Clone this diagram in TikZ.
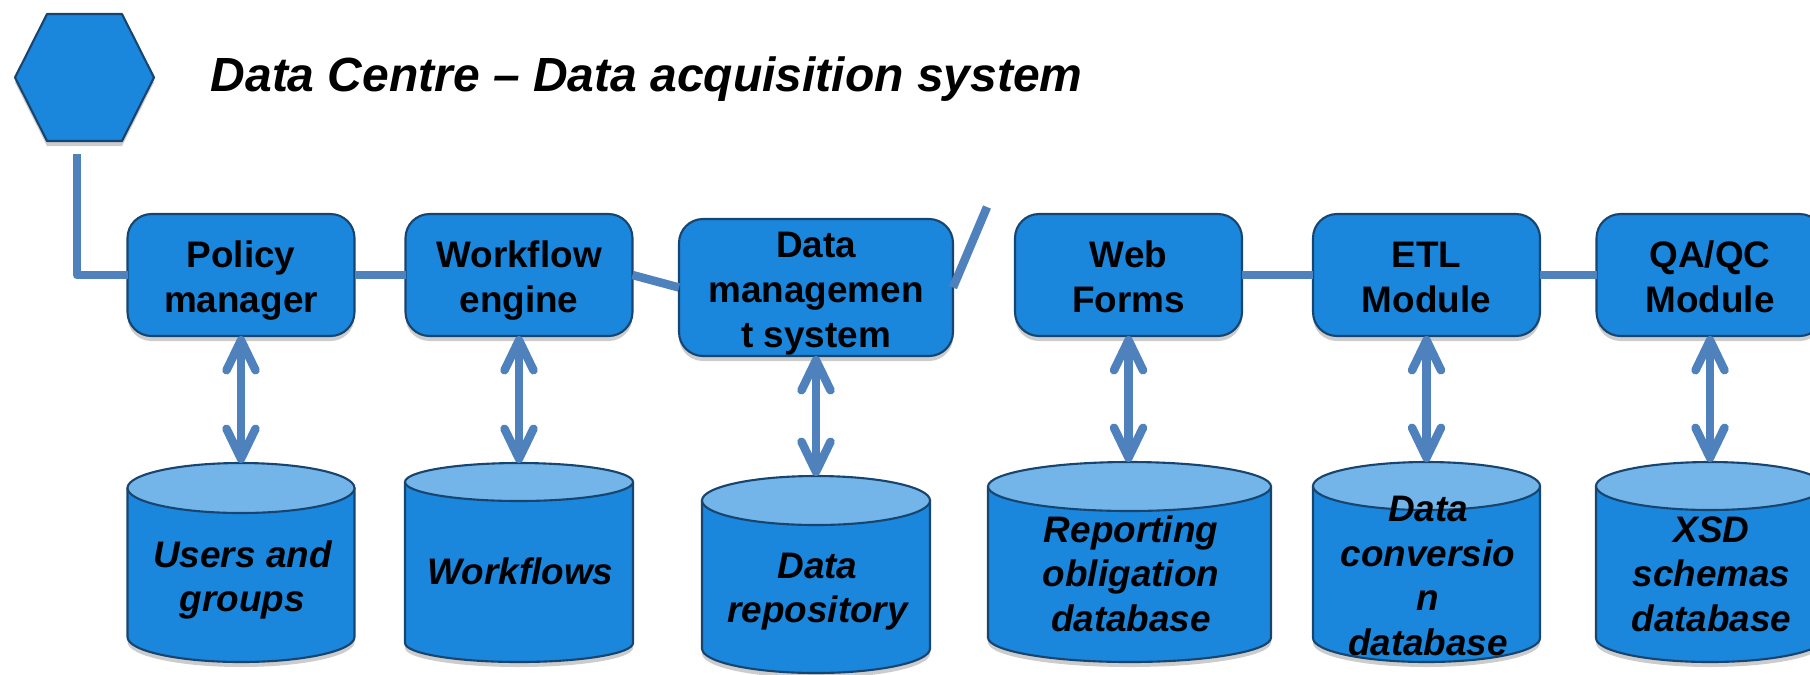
\documentclass[tikz,border=0pt]{standalone}
\usepackage{fontspec}
\setmainfont{Liberation Sans}
\usetikzlibrary{shapes.geometric,arrows.meta,shadows}
\definecolor{boxblue}{HTML}{1A86DC}
\definecolor{topblue}{HTML}{73B5E8}
\definecolor{edgeblue}{HTML}{17456F}
\definecolor{linkblue}{HTML}{4F81BD}
\newcommand{\firstln}{\rule{0pt}{9.5pt}}
\newcommand{\boxln}{\rule{0pt}{10.8pt}}
\newcommand{\lastln}{\rule[-2.4pt]{0pt}{0pt}}
\tikzset{
  softshadow/.style={drop shadow={shadow xshift=0cm,shadow yshift=-.05cm,opacity=.2,fill=black}},
  modulebox/.style={draw=edgeblue,fill=boxblue,line width=.6pt,rounded corners=.24cm,
    minimum width=2.27cm,minimum height=1.22cm,inner sep=0pt,outer sep=0pt,align=center,
    softshadow,font=\fontsize{10.5}{12.8}\selectfont\bfseries},
  storetop/.style={draw=edgeblue,fill=topblue,line width=.6pt,ellipse,inner sep=0pt,outer sep=0pt},
  storebody/.style={draw=edgeblue,fill=boxblue,line width=.6pt,softshadow},
  storetext/.style={align=center,inner sep=0pt,font=\fontsize{10.5}{12.8}\selectfont\bfseries\itshape},
  link/.style={draw=linkblue,line width=.085cm,line join=round},
  both/.style={link,{Straight Barb[round,length=.3cm,width=.29cm]}-{Straight Barb[round,length=.3cm,width=.29cm]}}
}
\begin{document}
\begin{tikzpicture}[join=round] %data acquisition chain, 1 px = .01 cm
         \useasboundingbox (0,0) rectangle (18.1,6.74);
         \filldraw[draw=edgeblue,fill=boxblue,line width=.6pt,softshadow](.47,6.60)--(1.22,6.60)--(1.54,5.965)--(1.22,5.33)--(.47,5.33)--(.15,5.965)--cycle;
         \node[anchor=base west,inner sep=0pt,font=\fontsize{13.65}{16}\selectfont\bfseries\itshape] (title) at (2.10,5.83) {Data Centre -- Data acquisition system};
         \coordinate (hexend) at (.77,5.20);
         \coordinate (freeend) at (9.87,4.67);
         % modules
         \node[modulebox] (policy) at (2.41,3.99) {\boxln Policy\\manager\lastln};
         \node[modulebox] (workflow) at (5.19,3.99) {\boxln Workflow\\engine\lastln};
         \node[modulebox,minimum width=2.74cm,minimum height=1.37cm] (dms) at (8.16,3.865) {\boxln Data\\managemen\\t system\lastln};
         \node[modulebox] (webforms) at (11.285,3.99) {\boxln Web\\Forms\lastln};
         \node[modulebox] (etl) at (14.265,3.99) {\boxln ETL\\Module\lastln};
         \node[modulebox] (qaqc) at (17.10,3.99) {\boxln QA/QC\\Module\lastln};
         % stores
         \foreach \nm/\cx/\ytop/\ybot/\rx/\ry/\ty/\txt in {
                users/2.41/2.11/.12/1.135/.25/.97/{Users and\\groups},
                flows/5.19/2.11/.12/1.14/.19/1.015/{Workflows},
                repo/8.16/1.98/.01/1.14/.245/.86/{Data\\repository},
                oblig/11.295/2.12/.12/1.415/.245/.995/{Reporting\\obligation\\database},
                conv/14.265/2.12/.12/1.135/.24/.98/{Data\\conversio\\n\\database},
                xsd/17.10/2.12/.12/1.14/.24/.995/{XSD\\schemas\\database}}{
            \path[storebody] ({\cx-\rx},{\ytop-\ry})--({\cx-\rx},{\ybot+\ry}) arc (180:360:\rx cm and \ry cm)--({\cx+\rx},{\ytop-\ry})--cycle;
            \node[storetop,minimum width=2*\rx cm,minimum height=2*\ry cm] (\nm) at (\cx,{\ytop-\ry}) {};
            \node[storetext] (\nm text) at (\cx+.015,\ty) {\firstln\txt\lastln};
         }
         % links
         \draw[link] (hexend)|-(policy.west);
         \draw[link] (policy.east)--(workflow.west);
         \draw[link] (workflow.east)--(dms.west);
         \draw[link] (dms.east)--(freeend);
         \draw[link] (webforms.east)--(etl.west);
         \draw[link] (etl.east)--(qaqc.west);
         \draw[both] (policy.south)--(users.north);
         \draw[both] (workflow.south)--(flows.north);
         \draw[both] (dms.south)--(repo.north);
         \draw[both] (webforms.south)--(webforms.south|-oblig.north);
         \draw[both] (etl.south)--(conv.north);
         \draw[both] (qaqc.south)--(xsd.north);
    \end{tikzpicture}
\end{document}
